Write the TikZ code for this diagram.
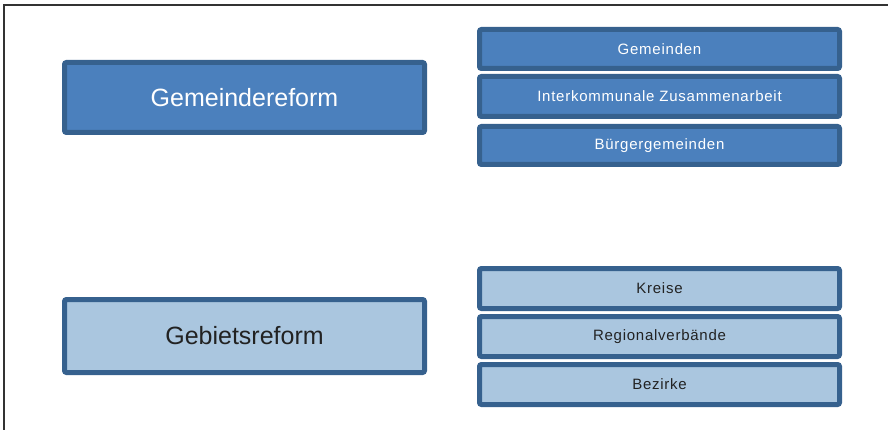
\documentclass[tikz,border=0pt]{standalone}
\usepackage{fontspec}
\setmainfont{Liberation Sans}
\definecolor{rimblue}{HTML}{36618E}
\definecolor{darkfill}{HTML}{4B80BD}
\definecolor{lightfill}{HTML}{AAC6DF}
\definecolor{inktext}{HTML}{222222}
\tikzset{
    reformbox/.style={draw=rimblue, line width=5pt, rounded corners=2pt,
        minimum width=360pt, inner sep=0pt, font=\fontsize{25}{30}\selectfont},
    itembox/.style={draw=rimblue, line width=5pt, rounded corners=2pt,
        minimum width=360pt, minimum height=40pt, inner sep=0pt,
        font=\fontsize{15}{18}\selectfont\addfontfeature{LetterSpace=5}},
    darkbox/.style={fill=darkfill, text=white},
    lightbox/.style={fill=lightfill, text=inktext}
}
\begin{document}
\begin{tikzpicture}[x=1pt, y=-1pt]
        \useasboundingbox (0,0) rectangle (888,430);
        % frame
        \coordinate (fbl) at (4,430);
        \coordinate (ftl) at (4,5);
        \coordinate (ftr) at (888,5);
        \draw[line width=1.6pt, black!80] (fbl) -- (ftl) -- (ftr);
        % left column
        \node[reformbox, darkbox, minimum height=70pt]  (gemreform) at (244.5,97.5) {Gemeindereform};
        \node[reformbox, lightbox, minimum height=73pt] (gebreform) at (244.5,336)  {Gebietsreform};
        % right column, top
        \node[itembox, darkbox, minimum height=39pt] (gemeinden) at (659.5,49)    {Gemeinden};
        \node[itembox, darkbox]                      (interkomm) at (659.5,96.5)  {Interkommunale Zusammenarbeit};
        \node[itembox, darkbox, minimum height=38pt] (buergerg)  at (659.5,145.5) {Bürgergemeinden};
        % right column, bottom
        \node[itembox, lightbox] (kreise)   at (659.5,288.5) {Kreise};
        \node[itembox, lightbox] (regverb)  at (659.5,336.5) {Regionalverbände};
        \node[itembox, lightbox] (bezirke)  at (659.5,384.5) {Bezirke};
    \end{tikzpicture}
\end{document}
